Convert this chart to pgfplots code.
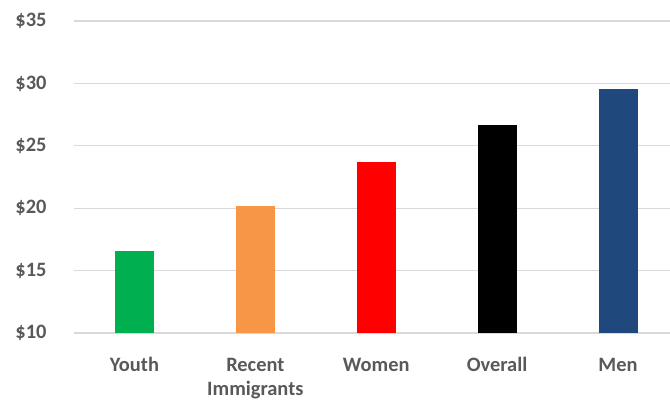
\documentclass[border=0pt]{standalone}
\usepackage{fontspec}
\setmainfont{Carlito}
\usepackage{pgfplots}
\pgfplotsset{compat=1.18}
\definecolor{gridgrey}{HTML}{D9D9D9}
\definecolor{labgrey}{HTML}{595959}
\definecolor{cgreen}{HTML}{00B050}
\definecolor{corange}{HTML}{F79646}
\definecolor{cred}{HTML}{FF0000}
\definecolor{cnavy}{HTML}{1F497D}
\begin{document}
\begin{tikzpicture}
\useasboundingbox (-74bp,-67bp) rectangle (596bp,333bp);
\begin{axis}[
  scale only axis,
  width=596bp, height=312bp,
  xmin=-0.5, xmax=4.43,
  ymin=10, ymax=35,
  ytick={10,15,...,35},
  xtick={0,1,2,3,4},
  xticklabels={\strut Youth,\strut Recent\\Immigrants,\strut Women,\strut Overall,\strut Men},
  axis line style={draw=none},
  major tick length=0pt,
  ymajorgrids, grid style={gridgrey, line width=1.2bp},
  ybar, bar width=39bp, bar shift=0pt,
  /pgf/number format/assume math mode=true,
  yticklabel={\$\pgfmathprintnumber{\tick}},
  ticklabel style={font=\fontsize{20.5}{23.5}\selectfont\bfseries, text=labgrey},
  xticklabel style={align=center, yshift=-19bp},
  yticklabel style={xshift=-24bp},
]
\addplot[fill=cgreen, draw=none] coordinates {(0,16.6)};
\addplot[fill=corange, draw=none] coordinates {(1,20.2)};
\addplot[fill=cred, draw=none] coordinates {(2,23.7)};
\addplot[fill=black, draw=none] coordinates {(3,26.7)};
\addplot[fill=cnavy, draw=none] coordinates {(4,29.55)};
\end{axis}
\end{tikzpicture}
\end{document}
